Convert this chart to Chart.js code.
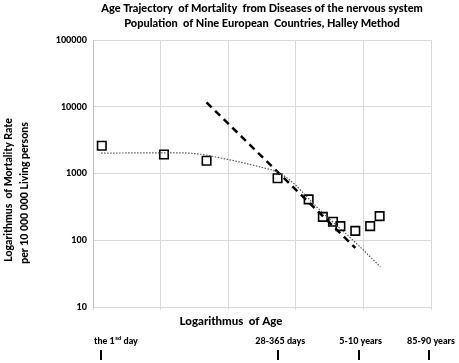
<!DOCTYPE html>
<html>
<head>
<meta charset="utf-8">
<script src="https://cdn.jsdelivr.net/npm/chart.js@4.4.1/dist/chart.umd.min.js"></script>
<style>
  html, body { margin: 0; padding: 0; background: #fff; }
  #wrap { width: 459px; height: 363px; }
</style>
</head>
<body>
<div id="wrap"><canvas id="chart" width="459" height="363"></canvas></div>
<script>
// observed values (x = log age position, y = rate per 10 000 000)
const obsX = [0.13, 1.05, 1.68, 2.73, 3.19, 3.40, 3.55, 3.66, 3.88, 4.10, 4.24];
const obsY = [2600, 1930, 1550, 850, 410, 224, 189, 163, 138, 163, 230];

// dashed straight trend
const dashX = [1.68, 3.88];
const dashY = [11600, 77];

// dotted smooth trend
const dotX = [0.12, 0.7, 1.2, 1.5, 2.0, 2.5, 2.73, 2.96, 3.19, 3.41, 3.6, 3.9, 4.25];
const dotY = [2020, 2035, 2040, 1990, 1620, 1230, 1050, 726, 420, 251, 168, 89, 40];

const yTicks = [10, 100, 1000, 10000, 100000];

// age marks under the axis
const ageMarks = [0.12, 2.74, 3.93, 4.97];
const ageLabels = ['the 1|sd| day', '28-365 days', '5-10 years', '85-90 years'];

const titleLines = [
  'Age Trajectory  of Mortality  from Diseases of the nervous system',
  'Population  of Nine European  Countries, Halley Method'
];
const yTitle = ['Logarithmus  of Mortality Rate', 'per 10 000 000 Living persons'];
const xTitle = 'Logarithmus  of Age';

const FONT = 'Lato, "Liberation Sans", sans-serif';

function pts(xs, ys) {
  return xs.map((x, i) => ({ x: x, y: ys[i] }));
}

// extra texts and marks
const textPlugin = {
  id: 'texts',
  afterDraw(chart) {
    const ctx = chart.ctx;
    const area = chart.chartArea;
    const xs = chart.scales.x;
    const cx = (area.left + area.right) / 2;
    ctx.save();
    ctx.fillStyle = '#000';
    ctx.textBaseline = 'middle';

    // title
    ctx.font = '900 11px ' + FONT;
    ctx.textAlign = 'center';
    ctx.fillText(titleLines[0], cx, 8);
    ctx.fillText(titleLines[1], cx, 23);

    // y title
    ctx.save();
    ctx.translate(9, 190);
    ctx.rotate(-Math.PI / 2);
    ctx.font = '900 10.5px ' + FONT;
    ctx.fillText(yTitle[0], 0, 0);
    ctx.fillText(yTitle[1], -3, 16);
    ctx.restore();

    // x title
    ctx.font = '900 11.5px ' + FONT;
    ctx.fillText(xTitle, 231, 321);

    // age labels and marks
    ageMarks.forEach((v, i) => {
      const px = xs.getPixelForValue(v);
      ctx.fillStyle = '#000';
      ctx.fillRect(Math.round(px) - 1, 350, 2, 10);
      const parts = ageLabels[i].split('|');
      ctx.font = '900 9px ' + FONT;
      if (parts.length === 1) {
        ctx.textAlign = 'center';
        ctx.fillText(parts[0], px + 2, 341);
      } else {
        // label with superscript
        ctx.textAlign = 'left';
        let x = px - 7;
        ctx.fillText(parts[0], x, 341);
        x += ctx.measureText(parts[0]).width + 0.5;
        ctx.font = '900 6px ' + FONT;
        ctx.fillText(parts[1], x, 338);
        x += ctx.measureText(parts[1]).width;
        ctx.font = '900 9px ' + FONT;
        ctx.fillText(parts[2], x, 341);
      }
    });
    ctx.restore();
  }
};

new Chart(document.getElementById('chart'), {
  type: 'scatter',
  data: {
    datasets: [
      {
        label: 'dotted',
        type: 'line',
        data: pts(dotX, dotY),
        borderColor: '#555',
        borderWidth: 1.2,
        borderDash: [1.5, 1.5],
        pointRadius: 0,
        cubicInterpolationMode: 'monotone',
        fill: false
      },
      {
        label: 'dashed',
        type: 'line',
        data: pts(dashX, dashY),
        borderColor: '#000',
        borderWidth: 2.5,
        borderDash: [7, 5],
        pointRadius: 0,
        fill: false
      },
      {
        label: 'observed',
        data: pts(obsX, obsY),
        pointStyle: 'rect',
        pointRadius: 6,
        pointBorderWidth: 1.6,
        pointBorderColor: '#000',
        pointBackgroundColor: 'rgba(255,255,255,0)'
      }
    ]
  },
  options: {
    responsive: false,
    animation: false,
    layout: { padding: { left: 0, right: 28, top: 40, bottom: 0 } },
    plugins: {
      legend: { display: false },
      tooltip: { enabled: false }
    },
    scales: {
      x: {
        type: 'linear',
        min: 0,
        max: 5,
        ticks: { display: false, stepSize: 1 },
        grid: { color: '#d9d9d9', lineWidth: 1, tickLength: 3, drawTicks: true },
        border: { color: '#d9d9d9' },
        afterFit(s) { s.height = 56; }
      },
      y: {
        type: 'logarithmic',
        min: 10,
        max: 100000,
        afterBuildTicks(s) { s.ticks = yTicks.map(v => ({ value: v })); },
        ticks: {
          color: '#000',
          padding: 6,
          font: { family: FONT, size: 9, weight: '900' },
          callback: (v) => String(v)
        },
        grid: { color: '#d9d9d9', lineWidth: 1, drawTicks: false },
        border: { color: '#bfbfbf' },
        afterFit(s) { s.width = 93; }
      }
    }
  },
  plugins: [textPlugin]
});
</script>
</body>
</html>
